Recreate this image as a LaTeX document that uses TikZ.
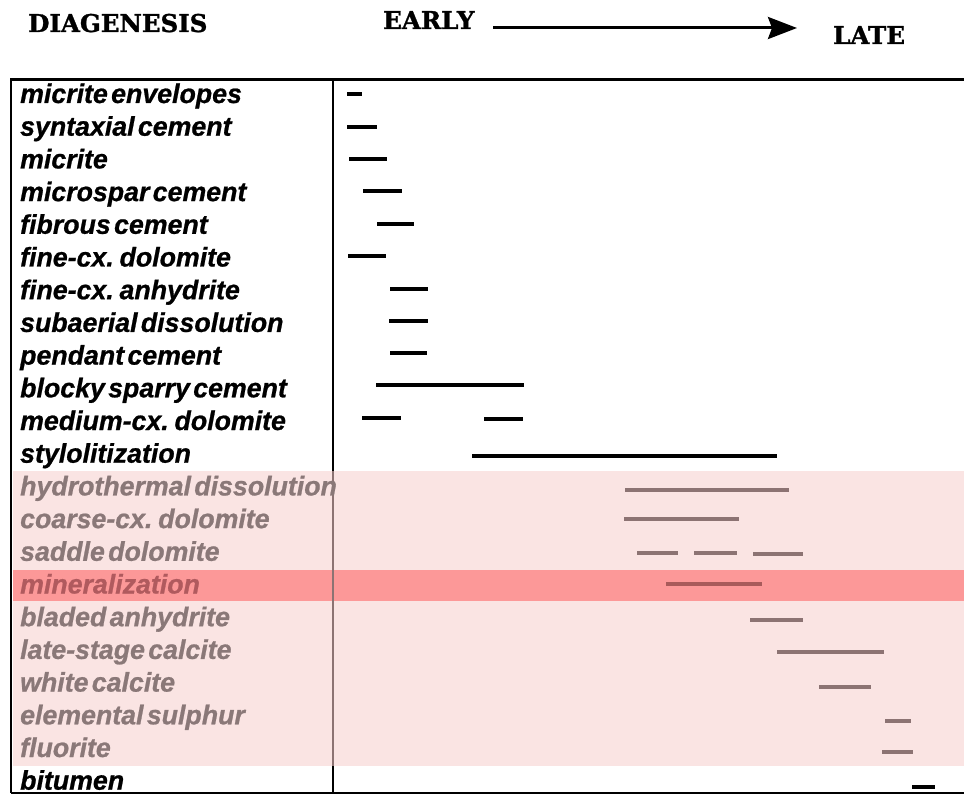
\documentclass[tikz,border=0pt]{standalone}
\usepackage{fontspec}
\usetikzlibrary{arrows.meta}
\newfontfamily\labfont{Liberation Sans}[WordSpace=0.45, BoldItalicFeatures={FakeBold=0.8}]
\newfontfamily\headfont{DejaVu Serif}[BoldFeatures={FakeBold=1.2}]
\definecolor{lightpink}{HTML}{FAE4E3}
\definecolor{bandpink}{HTML}{FC9898}
\definecolor{greytxt}{HTML}{8A7878}
\definecolor{greybar}{HTML}{8C7373}
\definecolor{mintxt}{HTML}{B05A5E}
\definecolor{minbar}{HTML}{A85A5A}
\tikzset{
  lab/.style={anchor=base west, inner sep=0pt, font=\labfont\bfseries\itshape\fontsize{27}{30}\selectfont, xscale=0.99},
  labgrey/.style={lab, text=greytxt},
  labmin/.style={lab, text=mintxt},
  head/.style={inner sep=0pt, font=\headfont\bfseries\fontsize{24.5}{27}\selectfont},
  bar/.style={line width=3.5pt, black},
  bargrey/.style={line width=3.5pt, greybar},
  barmin/.style={line width=3.5pt, minbar},
}
\begin{document}
\begin{tikzpicture}[x=1pt,y=-1pt]
\useasboundingbox (0,0) rectangle (964,794);
% shading
\fill[lightpink] (13,471) rectangle (964,766);
\fill[bandpink] (13,570) rectangle (964,601);
% frame
\draw[line width=3pt] (10,80) -- (964,80);
\draw[line width=2.5pt] (11,79) -- (11,793);
\draw[line width=2pt] (11,792.5) -- (964,792.5);
\draw[line width=1.5pt] (333,80) -- (333,471);
\draw[line width=1.5pt, greybar] (333,471) -- (333,766);
\draw[line width=1.5pt] (333,766) -- (333,792);
% header
\node[head, anchor=base west] (hdiag) at (28,32) {DIAGENESIS};
\node[head, anchor=base west] (hearly) at (383,29) {EARLY};
\node[head, anchor=base west] (hlate) at (833,44) {LATE};
\coordinate (arrs) at (493,28);
\coordinate (arre) at (797,28);
\draw[line width=3pt, -{Stealth[length=29pt,width=22pt,inset=4pt]}] (arrs) -- (arre);
% labels
\node[lab] (l0) at (20,103) {micrite envelopes};
\node[lab] (l1) at (20,135.7) {syntaxial cement};
\node[lab] (l2) at (20,168.4) {micrite};
\node[lab] (l3) at (20,201.1) {microspar cement};
\node[lab] (l4) at (20,233.8) {fibrous cement};
\node[lab] (l5) at (20,266.5) {fine-cx. dolomite};
\node[lab] (l6) at (20,299.2) {fine-cx. anhydrite};
\node[lab] (l7) at (20,331.9) {subaerial dissolution};
\node[lab] (l8) at (20,364.6) {pendant cement};
\node[lab] (l9) at (20,397.3) {blocky sparry cement};
\node[lab] (l10) at (20,430) {medium-cx. dolomite};
\node[lab] (l11) at (20,462.7) {stylolitization};
\node[labgrey] (l12) at (20,495.4) {hydrothermal dissolution};
\node[labgrey] (l13) at (20,528.1) {coarse-cx. dolomite};
\node[labgrey] (l14) at (20,560.8) {saddle dolomite};
\node[labmin] (l15) at (20,593.5) {mineralization};
\node[labgrey] (l16) at (20,626.2) {bladed anhydrite};
\node[labgrey] (l17) at (20,658.9) {late-stage calcite};
\node[labgrey] (l18) at (20,691.6) {white calcite};
\node[labgrey] (l19) at (20,724.3) {elemental sulphur};
\node[labgrey] (l20) at (20,757) {fluorite};
\node[lab] (l21) at (20,789.7) {bitumen};
% bars
\draw[bar] (347,94) -- (362,94);
\draw[bar] (347,127) -- (377,127);
\draw[bar] (349,159) -- (387,159);
\draw[bar] (363,191) -- (402,191);
\draw[bar] (377,224) -- (414,224);
\draw[bar] (348,256) -- (386,256);
\draw[bar] (390,289) -- (428,289);
\draw[bar] (389,321) -- (428,321);
\draw[bar] (390,353) -- (427,353);
\draw[bar] (376,385) -- (524,385);
\draw[bar] (362,418) -- (401,418);
\draw[bar] (484,419) -- (523,419);
\draw[bar] (472,456) -- (777,456);
\draw[bargrey] (625,490) -- (789,490);
\draw[bargrey] (624,519) -- (739,519);
\draw[bargrey] (637,553) -- (678,553);
\draw[bargrey] (694,553) -- (737,553);
\draw[bargrey] (753,554) -- (803,554);
\draw[barmin] (666,584) -- (762,584);
\draw[bargrey] (750,620) -- (803,620);
\draw[bargrey] (777,652) -- (884,652);
\draw[bargrey] (819,687) -- (871,687);
\draw[bargrey] (885,721) -- (911,721);
\draw[bargrey] (882,752) -- (913,752);
\draw[bar] (912,787) -- (935,787);
\end{tikzpicture}
\end{document}
